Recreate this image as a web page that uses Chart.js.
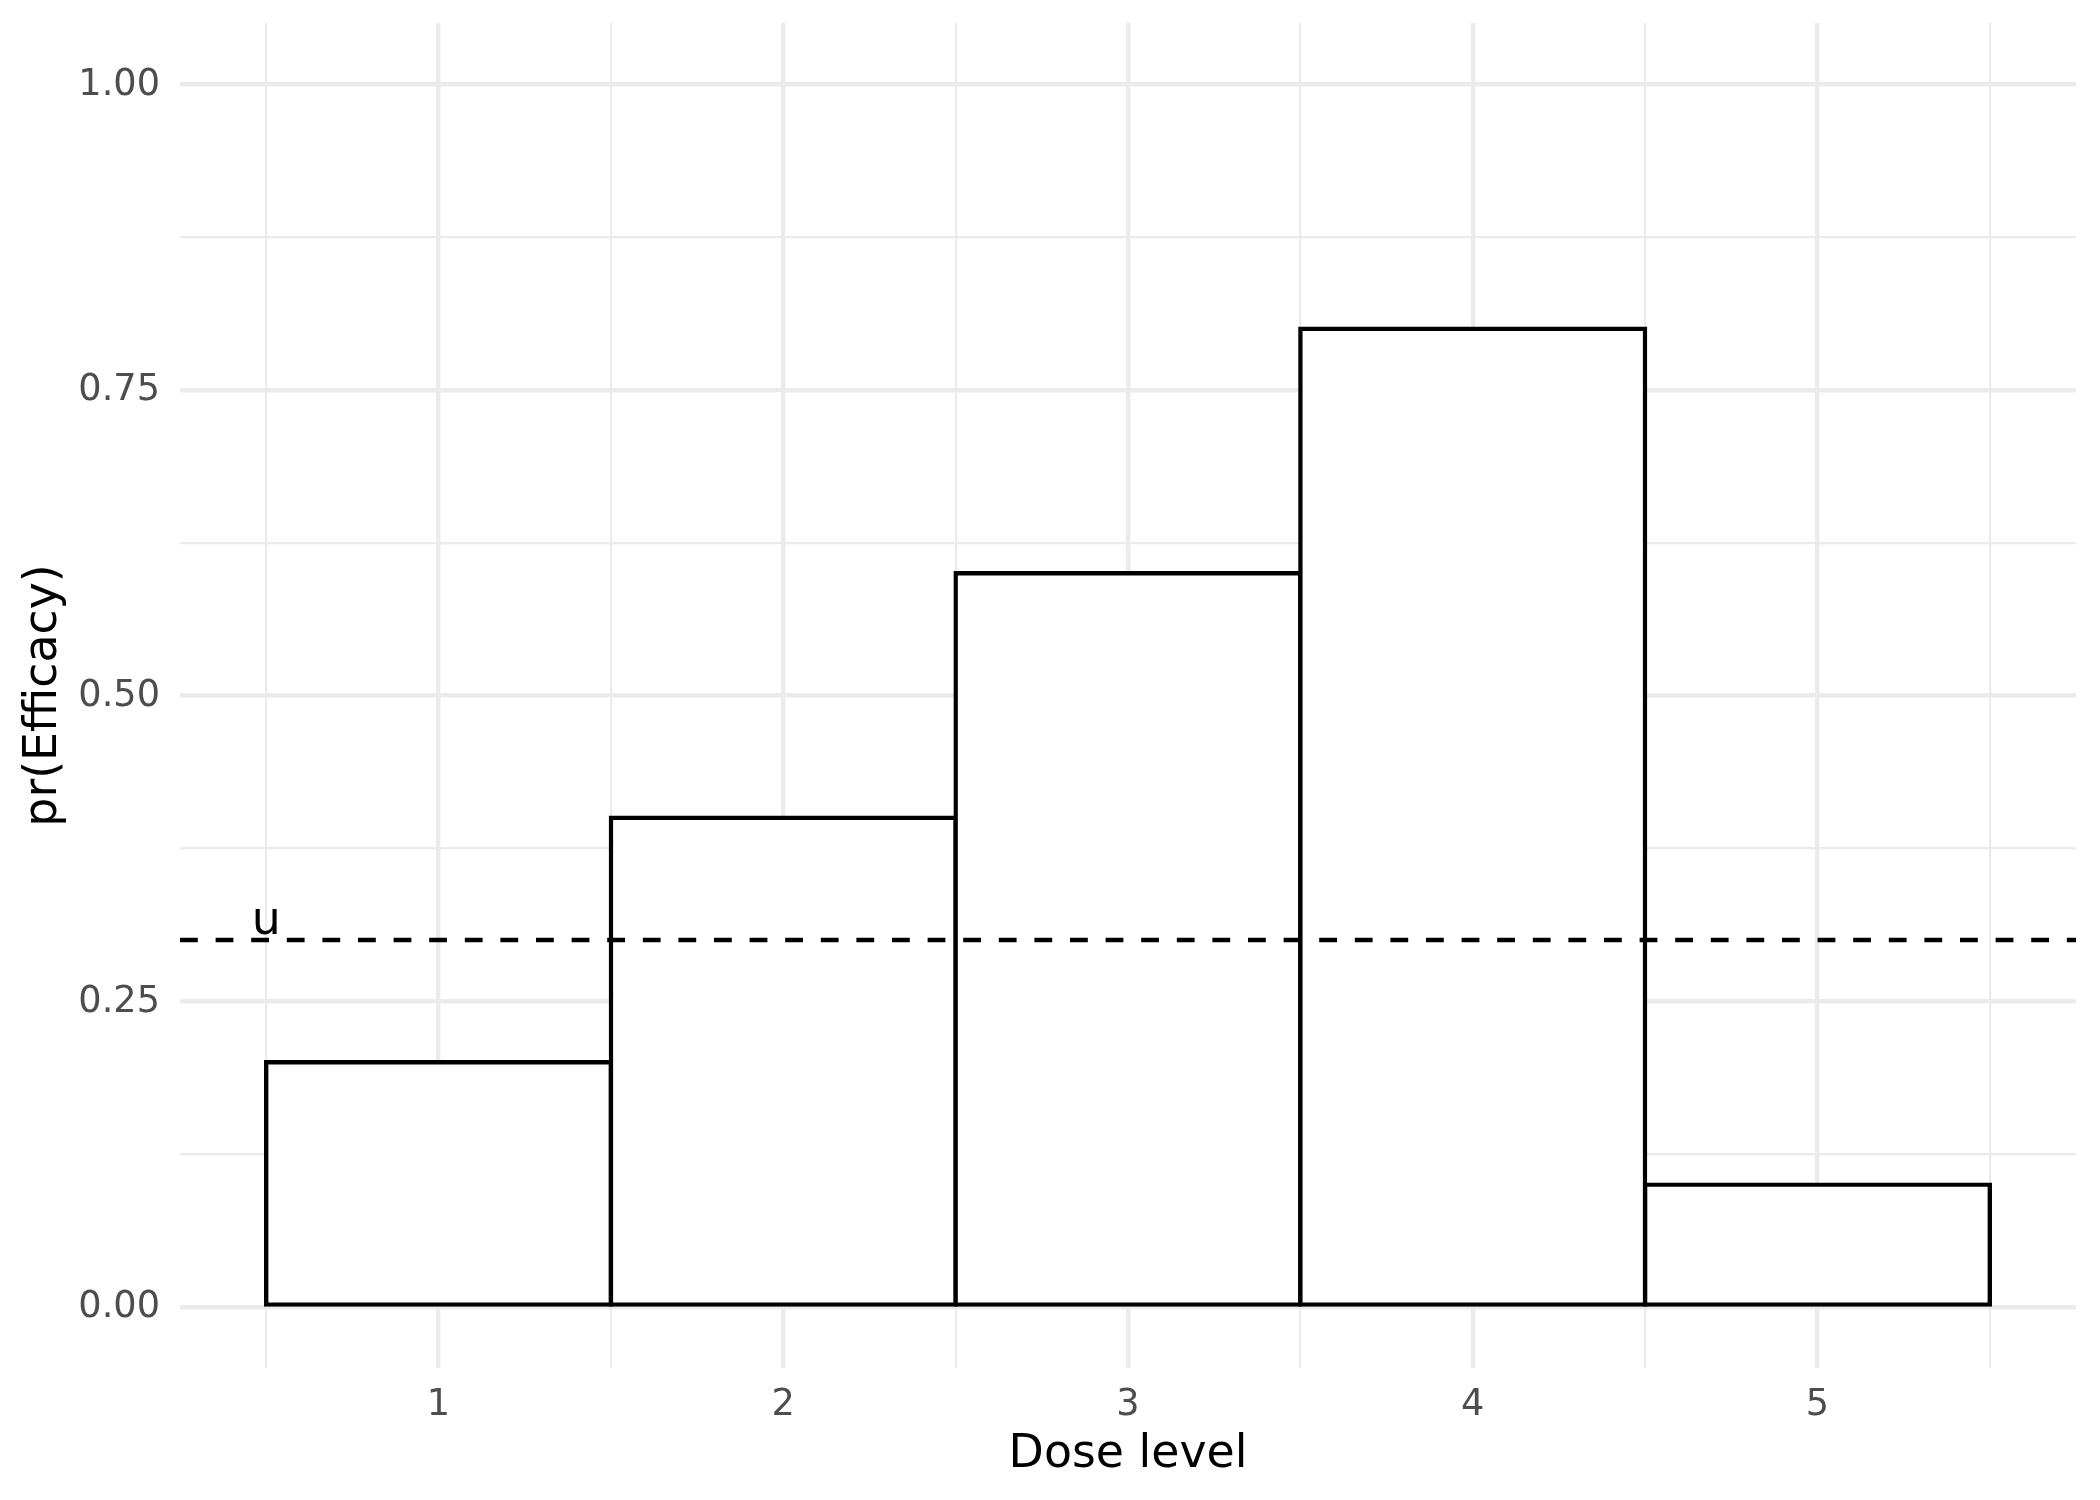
<!DOCTYPE html>
<html>
<head>
<meta charset="utf-8">
<script src="https://cdn.jsdelivr.net/npm/chart.js@4.4.1/dist/chart.umd.min.js"></script>
<style>
  body { margin: 0; background: #ffffff; }
  #wrap { width: 2100px; height: 1500px; }
</style>
</head>
<body>
<div id="wrap"><canvas id="doseChart" width="2100" height="1500"></canvas></div>
<script>
// Chart data
const doseLevels = [1, 2, 3, 4, 5];
const efficacy = [0.2, 0.4, 0.6, 0.8, 0.1];
const threshold = 0.3;
const thresholdLabel = 'u';
const thresholdLabelX = 0.5;

// Axis ticks (major ones get labels, minor ones only a thin grid line)
const yMajorTicks = [0, 0.25, 0.5, 0.75, 1];
const yMinorTicks = [0.125, 0.375, 0.625, 0.875];
const xMajorTicks = [1, 2, 3, 4, 5];
const xMinorTicks = [0.5, 1.5, 2.5, 3.5, 4.5, 5.5];
const xRange = [0.25, 5.75];
const yRange = [-0.05, 1.05];

const GRID = '#EBEBEB';
const MAJOR_W = 4.4;
const MINOR_W = 2.2;
const TICK_FONT = { size: 36.7, lineHeight: 1 };
const TITLE_FONT = { size: 45.8, lineHeight: 1 };

Chart.defaults.font.family = 'DejaVu Sans';

function toTicks(values) {
    return values.map(v => ({ value: v }));
}

// major grid lines are twice as thick as minor ones
function gridWidth(major) {
    return c => (c.tick && major.includes(c.tick.value)) ? MAJOR_W : MINOR_W;
}

// keep the plot panel exactly where the reference has it
function fixSize(prop, size) {
    return axis => {
        axis[prop] = size;
        axis.paddingTop = 0;
        axis.paddingBottom = 0;
        axis.paddingLeft = 0;
        axis.paddingRight = 0;
    };
}

// Label "u" sitting just above the dashed threshold line
const thresholdText = {
    id: 'thresholdText',
    afterDatasetsDraw(chart) {
        const { ctx, scales } = chart;
        const px = scales.x.getPixelForValue(thresholdLabelX);
        const py = scales.y.getPixelForValue(threshold);
        ctx.save();
        ctx.font = TITLE_FONT.size + 'px "DejaVu Sans"';
        ctx.fillStyle = '#000000';
        ctx.textAlign = 'center';
        ctx.textBaseline = 'alphabetic';
        ctx.fillText(thresholdLabel, px, py - 6);
        ctx.restore();
    }
};

const ctx = document.getElementById('doseChart').getContext('2d');
new Chart(ctx, {
    type: 'bar',
    data: {
        datasets: [
            {
                type: 'line',
                data: [{ x: xRange[0], y: threshold }, { x: xRange[1], y: threshold }],
                borderColor: '#000000',
                borderWidth: 4.4,
                borderDash: [17.8, 17.8],
                pointRadius: 0,
                fill: false,
                order: 0
            },
            {
                type: 'bar',
                data: doseLevels.map((d, i) => ({ x: d, y: efficacy[i] })),
                backgroundColor: '#ffffff',
                borderColor: '#000000',
                borderWidth: 4.4,
                borderSkipped: false,
                inflateAmount: 2.2,
                barPercentage: 1,
                categoryPercentage: 1,
                order: 1
            }
        ]
    },
    options: {
        responsive: false,
        animation: false,
        devicePixelRatio: 1,
        layout: { padding: { left: 0, right: 24, top: 23, bottom: 0 } },
        plugins: {
            legend: { display: false },
            tooltip: { enabled: false }
        },
        scales: {
            x: {
                type: 'linear',
                position: 'bottom',
                min: xRange[0],
                max: xRange[1],
                offset: false,
                afterBuildTicks: axis => { axis.ticks = toTicks(xMajorTicks); },
                afterFit: fixSize('height', 132),
                border: { display: false },
                grid: {
                    offset: false,
                    color: GRID,
                    drawTicks: false,
                    lineWidth: MAJOR_W
                },
                ticks: {
                    autoSkip: false,
                    maxRotation: 0,
                    padding: 19,
                    color: '#4D4D4D',
                    font: TICK_FONT,
                    callback: v => String(v)
                },
                title: {
                    display: true,
                    text: 'Dose level',
                    color: '#000000',
                    font: TITLE_FONT,
                    padding: { top: 0, bottom: 22 }
                }
            },
            // grid-only axis for the minor vertical lines
            xMinor: {
                type: 'linear',
                axis: 'x',
                position: 'bottom',
                min: xRange[0],
                max: xRange[1],
                offset: false,
                afterBuildTicks: axis => { axis.ticks = toTicks(xMinorTicks); },
                afterFit: fixSize('height', 0),
                border: { display: false },
                grid: {
                    offset: false,
                    color: GRID,
                    drawTicks: false,
                    lineWidth: MINOR_W
                },
                ticks: { display: false }
            },
            y: {
                type: 'linear',
                min: yRange[0],
                max: yRange[1],
                afterBuildTicks: axis => {
                    axis.ticks = toTicks(yMajorTicks.concat(yMinorTicks).sort((a, b) => a - b));
                },
                afterFit: fixSize('width', 180),
                border: { display: false },
                grid: {
                    color: GRID,
                    drawTicks: false,
                    lineWidth: gridWidth(yMajorTicks)
                },
                ticks: {
                    autoSkip: false,
                    padding: 20,
                    labelOffset: 1,
                    color: '#4D4D4D',
                    font: TICK_FONT,
                    callback: v => yMajorTicks.includes(v) ? v.toFixed(2) : ''
                },
                title: {
                    display: true,
                    text: 'pr(Efficacy)',
                    color: '#000000',
                    font: TITLE_FONT,
                    padding: { top: 21, bottom: 0 }
                }
            }
        }
    },
    plugins: [thresholdText]
});
</script>
</body>
</html>
